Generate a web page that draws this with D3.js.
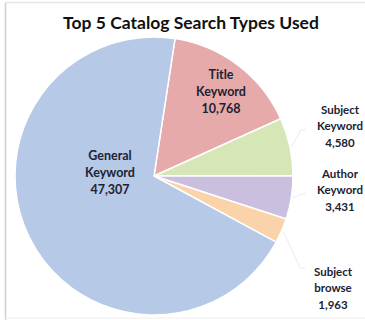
<!DOCTYPE html>
<html>
<head>
<meta charset="utf-8">
<script src="https://cdn.jsdelivr.net/npm/d3@7"></script>
<style>
  body { margin: 0; background: #fff; }
  svg { display: block; font-family: Lato, "Open Sans", sans-serif; }
</style>
</head>
<body>
<svg id="chart" width="365" height="320"></svg>
<script>
// data, clockwise from the top
const categories = ["Title Keyword", "Subject Keyword", "Author Keyword", "Subject browse", "General Keyword"];
const searches = [10768, 4580, 3431, 1963, 47307];
const sliceColors = ["#e6aaaa", "#d6e6b6", "#cbbfe0", "#fbd3aa", "#b6c9e6"];

const svg = d3.select('#chart'),
	width = 365,
	height = 320,
	cx = 154,
	cy = 176,
	radius = 139;

// chart area frame (only left and top edges show in the picture)
svg.append('line')
	.attr('x1', 5.5).attr('y1', 2).attr('x2', 5.5).attr('y2', height)
	.attr('stroke', '#cfcfcf').attr('stroke-width', 1.5);
svg.append('line')
	.attr('x1', 5).attr('y1', 2.5).attr('x2', width).attr('y2', 2.5)
	.attr('stroke', '#e4e4e4').attr('stroke-width', 1.5);
svg.append('line')
	.attr('x1', 5).attr('y1', height - 2).attr('x2', width).attr('y2', height - 2)
	.attr('stroke', '#eeeeee').attr('stroke-width', 1);

svg.append('text')
	.attr('x', 191)
	.attr('y', 29)
	.attr('text-anchor', 'middle')
	.style('font-size', '17.5px')
	.style('font-weight', 'bold')
	.attr('fill', '#111')
	.text('Top 5 Catalog Search Types Used');

const data = categories.map((c, i) => ({ name: c, value: searches[i], color: sliceColors[i] }));

const start = 8.7 * Math.PI / 180;
const pie = d3.pie()
	.value(d => d.value)
	.sort(null)
	.startAngle(start)
	.endAngle(start + 2 * Math.PI);

const arc = d3.arc().innerRadius(0).outerRadius(radius);
const arcs = pie(data);

const g = svg.append('g').attr('transform', `translate(${cx},${cy})`);

g.selectAll('path')
	.data(arcs)
	.enter().append('path')
	.attr('d', arc)
	.attr('fill', d => d.data.color)
	.attr('stroke', '#fff')
	.attr('stroke-width', 1.5);

// label placement: inside slices for big ones, right column for small ones
const inside = d3.arc().innerRadius(radius * 0.55).outerRadius(radius * 0.55);
const outsideX = 186;
const nudge = {
	"Title Keyword": [4, 0],
	"General Keyword": [0, 0],
	"Subject Keyword": [0, -50],
	"Author Keyword": [0, 14],
	"Subject browse": [-7, 112]
};

arcs.forEach(d => {
	let x, y;
	if (d.data.value > 10000) {
		let c = inside.centroid(d);
		x = c[0]; y = c[1];
		if (d.data.name == "General Keyword") { x = -44; y = -3; }
		if (d.data.name == "Title Keyword") { x = 63; y = -84; }
	} else {
		x = outsideX;
		y = 0;
	}
	x += nudge[d.data.name][0];
	y += nudge[d.data.name][1];
	d.labelPos = [x, y];
});

// faint leader lines for the outside labels
const outer = d3.arc().innerRadius(radius + 2).outerRadius(radius + 2);
arcs.filter(d => d.data.value < 10000).forEach(d => {
	let p = outer.centroid(d);
	let lx = d.labelPos[0] - 34, ly = d.labelPos[1] + 4;
	if (d.data.name == "Subject browse") { lx = d.labelPos[0] - 28; ly = d.labelPos[1] - 20; }
	g.append('polyline')
		.attr('points', [p, [lx - 5, ly], [lx, ly]].map(q => q.join(',')).join(' '))
		.attr('fill', 'none')
		.attr('stroke', '#ebebeb')
		.attr('stroke-width', 1);
});

const fmt = d3.format(',');
const labels = g.selectAll('text.label')
	.data(arcs)
	.enter().append('text')
	.attr('class', 'label')
	.attr('text-anchor', 'middle')
	.attr('fill', '#1c2233')
	.style('font-weight', 'bold')
	.style('font-size', d => d.data.value > 10000 ? '12.5px' : '11.5px');

labels.each(function(d) {
	let lines = d.data.name.split(' ').concat(fmt(d.data.value));
	let lh = d.data.value > 10000 ? 17 : 16.5;
	let t = d3.select(this);
	lines.forEach((l, i) => {
		t.append('tspan')
			.attr('x', d.labelPos[0])
			.attr('y', d.labelPos[1] + (i - 1) * lh + 4)
			.text(l);
	});
});
</script>
</body>
</html>
